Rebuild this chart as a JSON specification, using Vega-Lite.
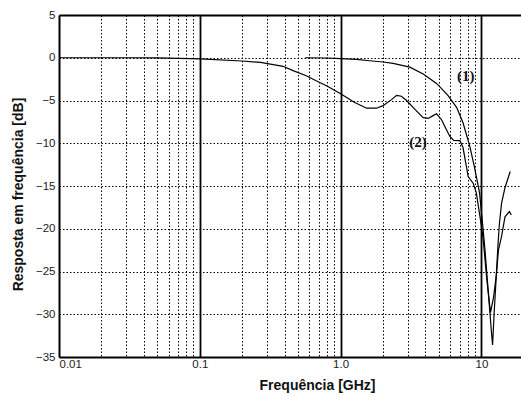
{
  "$schema": "https://vega.github.io/schema/vega-lite/v6.json",
  "autosize": {"type": "none"},
  "padding": {"left": 59, "top": 15, "right": 0, "bottom": 41},
  "width": 462,
  "height": 342,
  "background": "white",
  "view": {"stroke": null},
  "config": {
    "axis": {
      "labelFont": "Liberation Sans",
      "labelFontSize": 11.5,
      "labelColor": "#222",
      "titleFont": "Liberation Sans",
      "titleFontSize": 14,
      "titleFontWeight": "bold",
      "titleColor": "#111",
      "domainColor": "black",
      "domainWidth": 2,
      "gridColor": "black",
      "gridOpacity": 1
    }
  },
  "datasets": {
    "curves": [
      {"f": 0.56, "db": 0, "curve": "1"},
      {"f": 0.8, "db": -0.03, "curve": "1"},
      {"f": 1.0, "db": -0.1, "curve": "1"},
      {"f": 1.3, "db": -0.2, "curve": "1"},
      {"f": 1.61, "db": -0.35, "curve": "1"},
      {"f": 2.0, "db": -0.5, "curve": "1"},
      {"f": 2.36, "db": -0.65, "curve": "1"},
      {"f": 3.1, "db": -1.1, "curve": "1"},
      {"f": 3.86, "db": -1.9, "curve": "1"},
      {"f": 4.8, "db": -3.0, "curve": "1"},
      {"f": 5.78, "db": -4.4, "curve": "1"},
      {"f": 6.66, "db": -5.8, "curve": "1"},
      {"f": 7.4, "db": -7.6, "curve": "1"},
      {"f": 8.28, "db": -10.4, "curve": "1"},
      {"f": 8.9, "db": -12.7, "curve": "1"},
      {"f": 9.7, "db": -15.8, "curve": "1"},
      {"f": 10.2, "db": -19.5, "curve": "1"},
      {"f": 10.6, "db": -22.5, "curve": "1"},
      {"f": 11.2, "db": -27.5, "curve": "1"},
      {"f": 11.7, "db": -31.5, "curve": "1"},
      {"f": 12.0, "db": -33.6, "curve": "1"},
      {"f": 12.3, "db": -30, "curve": "1"},
      {"f": 12.7, "db": -26, "curve": "1"},
      {"f": 13.1, "db": -22, "curve": "1"},
      {"f": 13.4, "db": -19.5, "curve": "1"},
      {"f": 13.9, "db": -17, "curve": "1"},
      {"f": 14.7, "db": -15.2, "curve": "1"},
      {"f": 16.0, "db": -13.3, "curve": "1"},
      {"f": 0.01, "db": 0, "curve": "2"},
      {"f": 0.03, "db": 0, "curve": "2"},
      {"f": 0.05, "db": -0.02, "curve": "2"},
      {"f": 0.1, "db": -0.12, "curve": "2"},
      {"f": 0.2, "db": -0.38, "curve": "2"},
      {"f": 0.27, "db": -0.55, "curve": "2"},
      {"f": 0.39, "db": -1.0, "curve": "2"},
      {"f": 0.46, "db": -1.5, "curve": "2"},
      {"f": 0.57, "db": -2.1, "curve": "2"},
      {"f": 0.67, "db": -2.7, "curve": "2"},
      {"f": 0.8, "db": -3.3, "curve": "2"},
      {"f": 1.0, "db": -4.2, "curve": "2"},
      {"f": 1.25, "db": -5.2, "curve": "2"},
      {"f": 1.53, "db": -5.9, "curve": "2"},
      {"f": 1.8, "db": -5.9, "curve": "2"},
      {"f": 2.0, "db": -5.6, "curve": "2"},
      {"f": 2.3, "db": -4.9, "curve": "2"},
      {"f": 2.5, "db": -4.4, "curve": "2"},
      {"f": 2.7, "db": -4.5, "curve": "2"},
      {"f": 2.94, "db": -5.0, "curve": "2"},
      {"f": 3.4, "db": -6.1, "curve": "2"},
      {"f": 3.86, "db": -7.0, "curve": "2"},
      {"f": 4.2, "db": -7.1, "curve": "2"},
      {"f": 4.5, "db": -6.8, "curve": "2"},
      {"f": 4.8, "db": -6.55, "curve": "2"},
      {"f": 5.21, "db": -7.25, "curve": "2"},
      {"f": 5.6, "db": -8.3, "curve": "2"},
      {"f": 5.97, "db": -9.2, "curve": "2"},
      {"f": 6.35, "db": -9.67, "curve": "2"},
      {"f": 7.03, "db": -9.7, "curve": "2"},
      {"f": 7.4, "db": -10.5, "curve": "2"},
      {"f": 8.05, "db": -13.9, "curve": "2"},
      {"f": 8.75, "db": -14.7, "curve": "2"},
      {"f": 9.2, "db": -15.8, "curve": "2"},
      {"f": 10.0, "db": -19.7, "curve": "2"},
      {"f": 10.3, "db": -21.3, "curve": "2"},
      {"f": 10.9, "db": -25.8, "curve": "2"},
      {"f": 11.6, "db": -29.8, "curve": "2"},
      {"f": 12.2, "db": -28, "curve": "2"},
      {"f": 12.8, "db": -25.2, "curve": "2"},
      {"f": 13.2, "db": -22.5, "curve": "2"},
      {"f": 13.9, "db": -20.9, "curve": "2"},
      {"f": 14.7, "db": -18.6, "curve": "2"},
      {"f": 15.8, "db": -18, "curve": "2"},
      {"f": 16.3, "db": -18.4, "curve": "2"}
    ],
    "labels": [
      {"f": 7.75, "db": -2.1, "t": "(1)"},
      {"f": 3.54, "db": -9.8, "t": "(2)"}
    ]
  },
  "layer": [
    {
      "data": {"name": "curves"},
      "mark": {"type": "line", "strokeWidth": 1.2, "clip": true},
      "encoding": {
        "x": {
          "field": "f", "type": "quantitative",
          "scale": {"type": "log", "domain": [0.01, 19.1], "nice": false},
          "axis": {
            "title": "Frequência [GHz]",
            "titlePadding": 9,
            "titleX": 258,
            "values": [0.01, 0.02, 0.03, 0.04, 0.05, 0.06, 0.07, 0.08, 0.09, 0.1, 0.2, 0.3, 0.4, 0.5, 0.6, 0.7, 0.8, 0.9, 1, 2, 3, 4, 5, 6, 7, 8, 9, 10],
            "labelExpr": "datum.value == 0.01 ? '0.01' : datum.value == 0.1 ? '0.1' : datum.value == 1 ? '1.0' : datum.value == 10 ? '10' : ''",
            "labelPadding": 1,
            "ticks": false,
            "grid": true,
            "gridDash": {"condition": {"test": "datum.value == 0.1 || datum.value == 1 || datum.value == 10", "value": []}, "value": [1.5, 2]},
            "gridWidth": {"condition": {"test": "datum.value == 0.1 || datum.value == 1 || datum.value == 10", "value": 1.8}, "value": 1}
          }
        },
        "y": {
          "field": "db", "type": "quantitative",
          "scale": {"domain": [-35, 5], "nice": false},
          "axis": {
            "title": "Resposta em frequência [dB]",
            "titlePadding": 10,
            "titleY": 179,
            "values": [-35, -30, -25, -20, -15, -10, -5, 0, 5],
            "labelPadding": 4,
            "ticks": false,
            "grid": true,
            "gridDash": {"condition": {"test": "datum.value == 5", "value": []}, "value": [1.5, 2]},
            "gridWidth": {"condition": {"test": "datum.value == 5", "value": 2}, "value": 1}
          }
        },
        "detail": {"field": "curve"},
        "color": {"value": "black"}
      }
    },
    {
      "data": {"name": "labels"},
      "mark": {"type": "text", "font": "Liberation Serif", "fontSize": 15, "fontWeight": "bold", "color": "#111"},
      "encoding": {
        "x": {"field": "f", "type": "quantitative"},
        "y": {"field": "db", "type": "quantitative"},
        "text": {"field": "t"}
      }
    }
  ]
}
